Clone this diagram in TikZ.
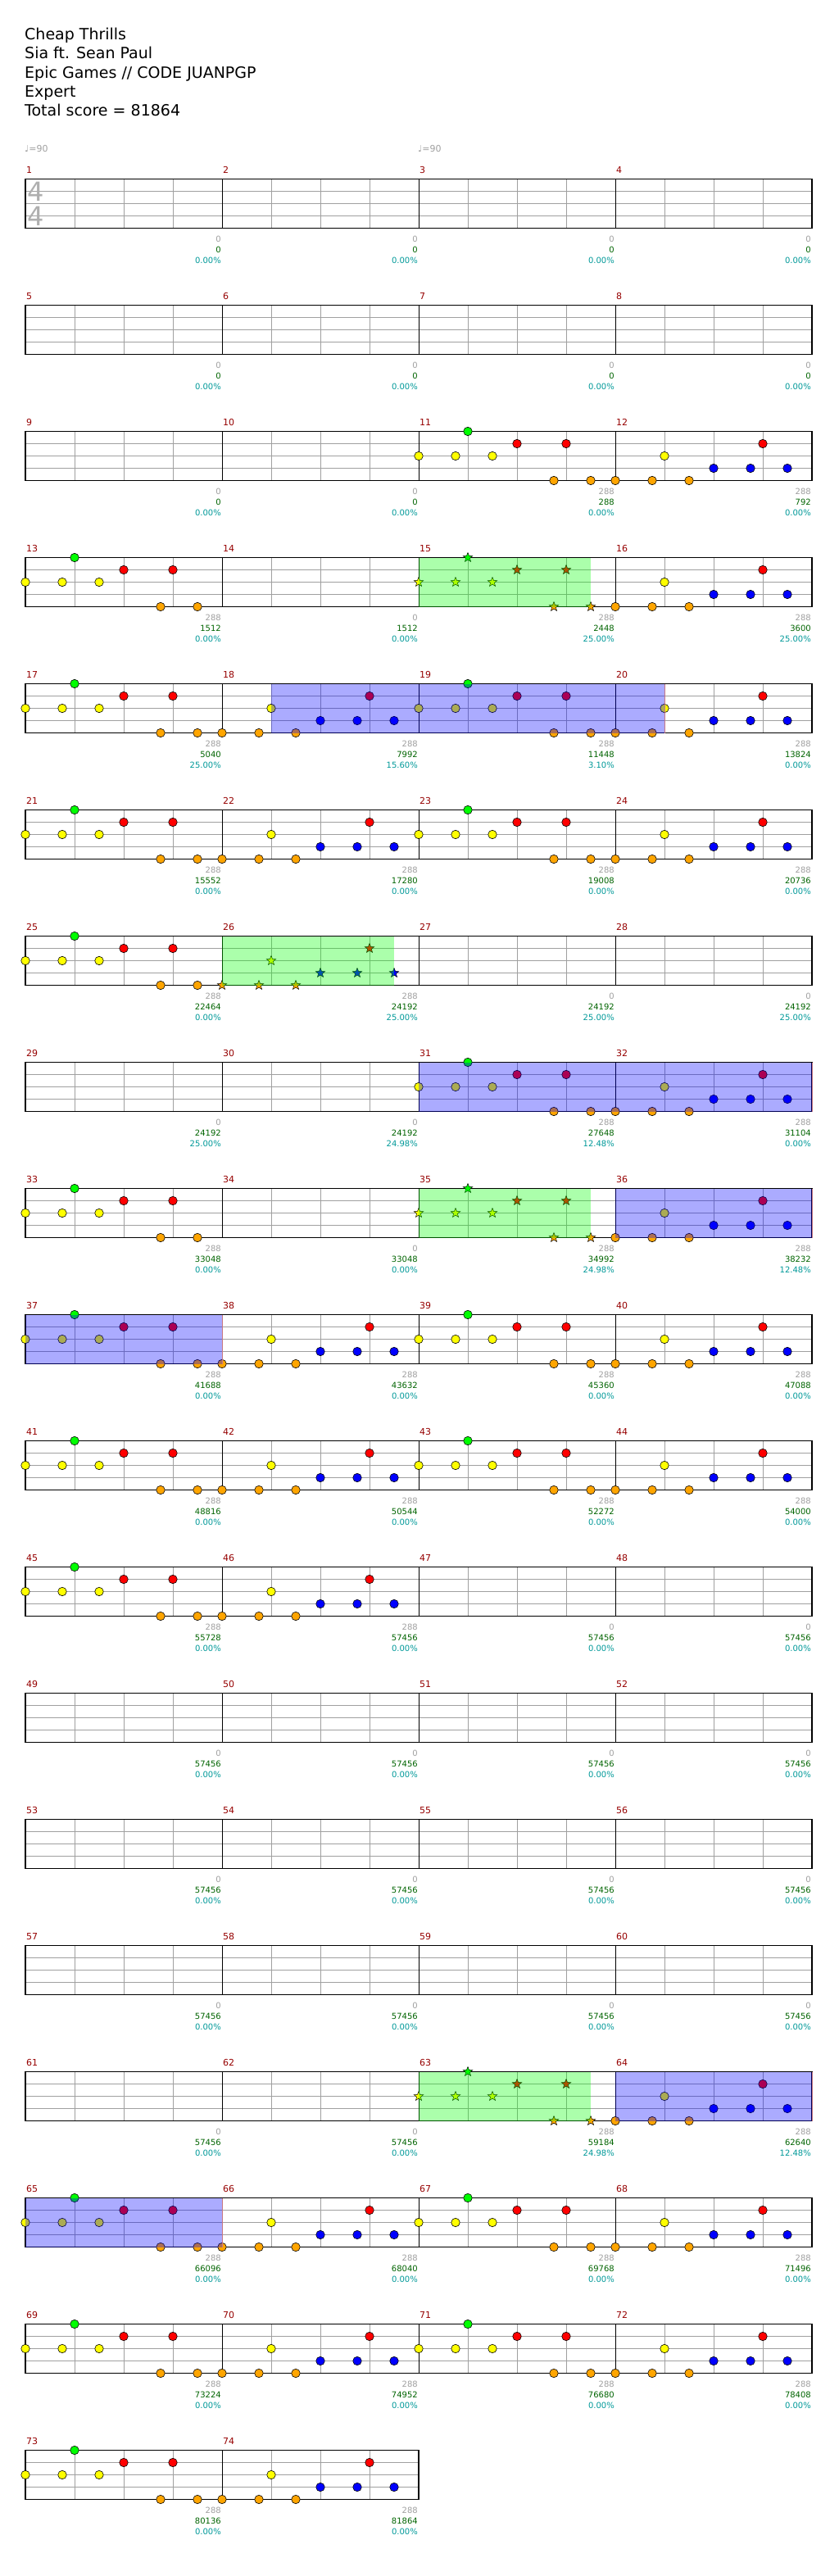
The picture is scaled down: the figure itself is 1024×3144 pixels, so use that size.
\documentclass[tikz,border=0pt]{standalone}
\usepackage{fontspec}
\setmainfont{DejaVu Sans}
\usetikzlibrary{shapes.geometric}

\definecolor{gemG}{RGB}{0,255,0}
\definecolor{gemR}{RGB}{255,0,0}
\definecolor{gemY}{RGB}{255,255,0}
\definecolor{gemB}{RGB}{0,0,255}
\definecolor{gemO}{RGB}{255,165,0}
\definecolor{barnum}{RGB}{150,0,0}
\definecolor{gridmid}{RGB}{160,160,160}
\definecolor{gridlight}{RGB}{221,221,221}
\definecolor{scoregray}{RGB}{160,160,160}
\definecolor{scoregreen}{RGB}{0,100,0}
\definecolor{scorecyan}{RGB}{0,153,153}
\definecolor{spedge}{RGB}{200,120,130}

% lane 0 = top (green) ... lane 4 = bottom (orange), positions in eighths
\newcommand{\riffA}{0/2/gemY, 1.5/2/gemY, 2/0/gemG, 3/2/gemY, 4/1/gemR, 5.5/4/gemO, 6/1/gemR, 7/4/gemO}
\newcommand{\riffB}{0/4/gemO, 1.5/4/gemO, 2/2/gemY, 3/4/gemO, 4/3/gemB, 5.5/3/gemB, 6/1/gemR, 7/3/gemB}

\newcommand{\measurexy}[1]{%
  \pgfmathtruncatemacro\mrow{(#1-1)/4}%
  \pgfmathtruncatemacro\mcol{mod(#1-1,4)}%
  \pgfmathsetmacro\xa{31+240*\mcol}%
  \pgfmathsetmacro\ya{218.5+154*\mrow}%
}
\newcommand{\riffat}[2]{%
  \foreach \p/\l/\c [count=\i] in #1 {
    \node[#2, fill=\c] (g-\m-\i) at ({\xa+30*\p},{\ya+15*\l}) {};
  }%
}

\tikzset{
  gem/.style={circle, draw=black, line width=0.6pt, inner sep=0pt, minimum size=10.5pt},
  stargem/.style={star, star points=5, star point ratio=2.3, draw=black, line width=0.5pt, inner sep=0pt, minimum size=12pt},
  staffline/.style={draw=black, line width=1.2pt},
  barline/.style={draw=black, line width=0.9pt},
  midline/.style={draw=gridmid, line width=0.9pt},
  lightline/.style={draw=gridlight, line width=0.9pt},
  barno/.style={anchor=west, text=barnum, inner sep=0pt, font=\fontsize{11}{11}\selectfont},
  sclabel/.style={anchor=east, inner sep=0pt, font=\fontsize{10}{10}\selectfont},
  headline/.style={anchor=base west, inner sep=0pt, font=\fontsize{19}{19}\selectfont},
  tempomark/.style={anchor=west, inner sep=0pt, text=scoregray, font=\fontsize{11}{11}\selectfont},
  timesig/.style={text={rgb,255:red,175;green,175;blue,175}, inner sep=0pt, font=\fontsize{32}{32}\selectfont},
  spphrase/.style={fill=gemG, fill opacity=0.33},
  spactive/.style={fill=gemB, fill opacity=0.33},
}

\begin{document}
\begin{tikzpicture}[x=1pt, y=-1pt]
\useasboundingbox[fill=white] (0,0) rectangle (1024,3144);

% header
\node[headline] (title) at (30,49) {Cheap Thrills};
\node[headline] (artist) at (30,72) {Sia ft. Sean Paul};
\node[headline] (charter) at (30,95.3) {Epic Games // CODE JUANPGP};
\node[headline] (level) at (30,118.3) {Expert};
\node[headline] (total) at (30,141.3) {Total score = 81864};

\node[tempomark] (tempo-1) at (30,181) {♩=90};
\node[tempomark] (tempo-3) at (510,181) {♩=90};

% staves
\foreach \r in {0,...,18} {
  \pgfmathtruncatemacro\nm{\r==18 ? 2 : 4}
  \pgfmathsetmacro\yr{218.5+154*\r}
  \pgfmathsetmacro\xe{31+240*\nm}
  \pgfmathtruncatemacro\nl{4*\nm-1}
  \pgfmathtruncatemacro\nb{\nm-1}
  \foreach \k in {0,...,\nl} \draw[lightline] ({61+60*\k-30},\yr) -- ++(0,60);
  \foreach \k in {1,...,\nl} \draw[midline] ({31+60*\k},\yr) -- ++(0,60);
  \foreach \k in {1,2,3} \draw[midline] (31,{\yr+15*\k}) -- (\xe,{\yr+15*\k});
  \foreach \k in {1,...,\nb} \draw[barline] ({31+240*\k},\yr) -- ++(0,60);
  \draw[staffline] (31,\yr) rectangle (\xe,{\yr+60});
}

\node[timesig] (ts-top) at (44,234) {4};
\node[timesig] (ts-bot) at (44,264) {4};

% measures: number / riff (0 none, 1 A, 2 B, 3 A star, 4 B star) / score / sp
\foreach \m/\rid/\total/\pct in {
  1/0/0/0.00, 2/0/0/0.00, 3/0/0/0.00, 4/0/0/0.00,
  5/0/0/0.00, 6/0/0/0.00, 7/0/0/0.00, 8/0/0/0.00,
  9/0/0/0.00, 10/0/0/0.00, 11/1/288/0.00, 12/2/792/0.00,
  13/1/1512/0.00, 14/0/1512/0.00, 15/3/2448/25.00, 16/2/3600/25.00,
  17/1/5040/25.00, 18/2/7992/15.60, 19/1/11448/3.10, 20/2/13824/0.00,
  21/1/15552/0.00, 22/2/17280/0.00, 23/1/19008/0.00, 24/2/20736/0.00,
  25/1/22464/0.00, 26/4/24192/25.00, 27/0/24192/25.00, 28/0/24192/25.00,
  29/0/24192/25.00, 30/0/24192/24.98, 31/1/27648/12.48, 32/2/31104/0.00,
  33/1/33048/0.00, 34/0/33048/0.00, 35/3/34992/24.98, 36/2/38232/12.48,
  37/1/41688/0.00, 38/2/43632/0.00, 39/1/45360/0.00, 40/2/47088/0.00,
  41/1/48816/0.00, 42/2/50544/0.00, 43/1/52272/0.00, 44/2/54000/0.00,
  45/1/55728/0.00, 46/2/57456/0.00, 47/0/57456/0.00, 48/0/57456/0.00,
  49/0/57456/0.00, 50/0/57456/0.00, 51/0/57456/0.00, 52/0/57456/0.00,
  53/0/57456/0.00, 54/0/57456/0.00, 55/0/57456/0.00, 56/0/57456/0.00,
  57/0/57456/0.00, 58/0/57456/0.00, 59/0/57456/0.00, 60/0/57456/0.00,
  61/0/57456/0.00, 62/0/57456/0.00, 63/3/59184/24.98, 64/2/62640/12.48,
  65/1/66096/0.00, 66/2/68040/0.00, 67/1/69768/0.00, 68/2/71496/0.00,
  69/1/73224/0.00, 70/2/74952/0.00, 71/1/76680/0.00, 72/2/78408/0.00,
  73/1/80136/0.00, 74/2/81864/0.00} {
  \measurexy{\m}
  \node[barno] (no-\m) at ({\xa+1},{\ya-11}) {\m};
  \ifcase\rid
  \or \riffat{\riffA}{gem}
  \or \riffat{\riffB}{gem}
  \or \riffat{\riffA}{stargem}
  \or \riffat{\riffB}{stargem}
  \fi
  \node[sclabel, text=scoregray] (mg-\m) at ({\xa+239},{\ya+73}) {\ifnum\rid=0 0\else 288\fi};
  \node[sclabel, text=scoregreen] (ms-\m) at ({\xa+239},{\ya+86}) {\total};
  \node[sclabel, text=scorecyan] (mp-\m) at ({\xa+239},{\ya+99}) {\pct\%};
}

% star power phrases and activations
\foreach \m/\s/\w in {15/0/7, 26/0/7, 35/0/7, 63/0/7} {
  \measurexy{\m}
  \fill[spphrase] ({\xa+30*\s},\ya) rectangle ++({30*\w},60);
}
\foreach \m/\s/\w in {18/2/16, 31/0/16, 36/0/8, 37/0/8, 64/0/8, 65/0/8} {
  \measurexy{\m}
  \fill[spactive] ({\xa+30*\s},\ya) rectangle ++({30*\w},60);
  \draw[spedge, line width=0.4pt] ({\xa+30*(\s+\w)},\ya) -- ++(0,60);
}
\end{tikzpicture}
\end{document}
